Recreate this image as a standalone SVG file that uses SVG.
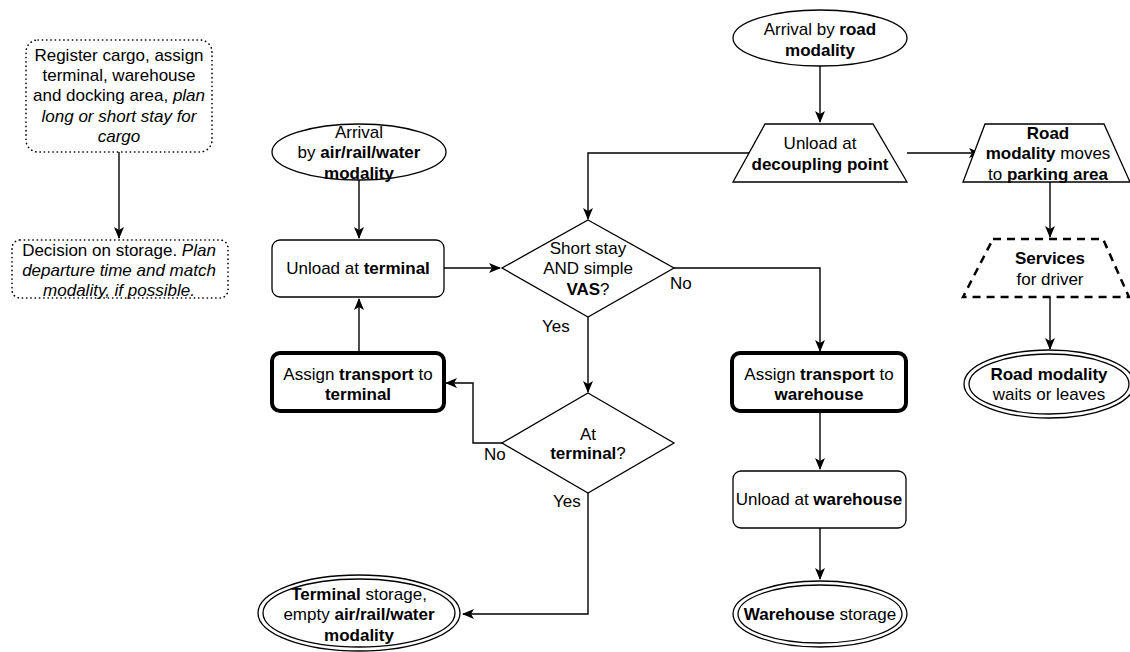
<svg xmlns="http://www.w3.org/2000/svg" width="1130" height="652" viewBox="0 0 1130 652">
<style>
text{font-family:"Liberation Sans",Arial,sans-serif;font-size:17px;fill:#000;text-anchor:middle}
.b{font-weight:bold}
.i{font-style:italic}
.n{fill:#fff;stroke:#000;stroke-width:1.3}
.thick{stroke-width:4}
.dot{stroke-dasharray:0.3 4;stroke-linecap:round;stroke-width:1.6}
.dash{stroke-dasharray:8 6;stroke-width:2.5}
.c{fill:none;stroke:#000;stroke-width:1.4}
.lbl{text-anchor:start}
</style>
<defs>
<marker id="a" viewBox="0 0 12 10" refX="11" refY="5" markerWidth="12" markerHeight="10" markerUnits="userSpaceOnUse" orient="auto">
<path d="M0,0 L12,5 L0,10 L3,5 z" fill="#000"/>
</marker>
</defs>
<g id="connectors">
<path class="c" d="M119,152 V238" marker-end="url(#a)"/>
<path class="c" d="M359,180 V238" marker-end="url(#a)"/>
<path class="c" d="M444,268 H500" marker-end="url(#a)"/>
<path class="c" d="M750,153 H588 V219" marker-end="url(#a)"/>
<path class="c" d="M674,268 H820 V351" marker-end="url(#a)"/>
<path class="c" d="M588,317 V392" marker-end="url(#a)"/>
<path class="c" d="M502,443 H473 V383 H446" marker-end="url(#a)"/>
<path class="c" d="M588,493 V614 H463" marker-end="url(#a)"/>
<path class="c" d="M359,353 V299" marker-end="url(#a)"/>
<path class="c" d="M820,66 V122" marker-end="url(#a)"/>
<path class="c" d="M907,153 H980" marker-end="url(#a)"/>
<path class="c" d="M1050,182 V237" marker-end="url(#a)"/>
<path class="c" d="M1050,297 V349" marker-end="url(#a)"/>
<path class="c" d="M820,411 V469" marker-end="url(#a)"/>
<path class="c" d="M820,528 V579" marker-end="url(#a)"/>
<text class="lbl" x="670" y="289">No</text>
<text class="lbl" x="542" y="332">Yes</text>
<text class="lbl" x="484" y="460">No</text>
<text class="lbl" x="553" y="507">Yes</text>
</g>
<g id="register">
<rect class="n dot" x="26" y="40" width="186" height="112" rx="12"/>
<text x="119" y="61">Register cargo, assign</text>
<text x="119" y="81">terminal, warehouse</text>
<text x="119" y="101">and docking area, <tspan class="i">plan</tspan></text>
<text class="i" x="119" y="122">long or short stay for</text>
<text class="i" x="119" y="142">cargo</text>
</g>
<g id="decision-storage">
<rect class="n dot" x="12" y="240" width="216" height="58" rx="8"/>
<text x="119" y="256">Decision on storage. <tspan class="i">Plan</tspan></text>
<text class="i" x="119" y="276">departure time and match</text>
<text class="i" x="119" y="296">modality, if possible.</text>
</g>
<g id="arrival-air">
<ellipse class="n" cx="359" cy="152" rx="87" ry="28"/>
<text x="359" y="138">Arrival</text>
<text x="359" y="158">by <tspan class="b">air/rail/water</tspan></text>
<text class="b" x="359" y="179">modality</text>
</g>
<g id="unload-terminal">
<rect class="n" x="272" y="240" width="172" height="57" rx="8"/>
<text x="358" y="274">Unload at <tspan class="b">terminal</tspan></text>
</g>
<g id="short-stay">
<polygon class="n" points="588,220 674,268 588,317 502,268"/>
<text x="588" y="254">Short stay</text>
<text x="588" y="274">AND simple</text>
<text x="588" y="295"><tspan class="b">VAS</tspan>?</text>
</g>
<g id="at-terminal">
<polygon class="n" points="588,393 674,443 588,493 502,443"/>
<text x="588" y="440">At</text>
<text x="588" y="459"><tspan class="b">terminal</tspan>?</text>
</g>
<g id="assign-terminal">
<rect class="n thick" x="272" y="353" width="172" height="58" rx="8"/>
<text x="358" y="380">Assign <tspan class="b">transport</tspan> to</text>
<text class="b" x="358" y="400">terminal</text>
</g>
<g id="terminal-storage">
<ellipse class="n" cx="359" cy="613" rx="101" ry="38"/>
<ellipse class="n" cx="359" cy="613" rx="96" ry="34"/>
<text x="359" y="600"><tspan class="b">Terminal</tspan> storage,</text>
<text x="359" y="620">empty <tspan class="b">air/rail/water</tspan></text>
<text class="b" x="359" y="641">modality</text>
</g>
<g id="arrival-road">
<ellipse class="n" cx="820" cy="38" rx="87" ry="28"/>
<text x="820" y="35">Arrival by <tspan class="b">road</tspan></text>
<text class="b" x="820" y="56">modality</text>
</g>
<g id="decoupling">
<polygon class="n" points="765,124 873,124 907,182 733,182"/>
<text x="820" y="149">Unload at</text>
<text class="b" x="820" y="170">decoupling point</text>
</g>
<g id="parking">
<polygon class="n" points="985,124 1104,124 1130,182 963,182"/>
<text class="b" x="1048" y="139">Road</text>
<text x="1048" y="159"><tspan class="b">modality</tspan> moves</text>
<text x="1048" y="180">to <tspan class="b">parking area</tspan></text>
</g>
<g id="services">
<polygon class="n dash" points="993,239 1103,239 1129,297 963,297"/>
<text class="b" x="1050" y="264">Services</text>
<text x="1050" y="285">for driver</text>
</g>
<g id="road-waits">
<ellipse class="n" cx="1049" cy="384" rx="85" ry="34"/>
<ellipse class="n" cx="1049" cy="384" rx="80" ry="30"/>
<text class="b" x="1049" y="380">Road modality</text>
<text x="1049" y="400">waits or leaves</text>
</g>
<g id="assign-warehouse">
<rect class="n thick" x="732" y="353" width="174" height="58" rx="8"/>
<text x="819" y="380">Assign <tspan class="b">transport</tspan> to</text>
<text class="b" x="819" y="400">warehouse</text>
</g>
<g id="unload-warehouse">
<rect class="n" x="733" y="471" width="173" height="57" rx="8"/>
<text x="819" y="505">Unload at <tspan class="b">warehouse</tspan></text>
</g>
<g id="warehouse-storage">
<ellipse class="n" cx="820" cy="614" rx="87" ry="33"/>
<ellipse class="n" cx="820" cy="614" rx="82" ry="29"/>
<text x="820" y="620"><tspan class="b">Warehouse</tspan> storage</text>
</g>
</svg>
